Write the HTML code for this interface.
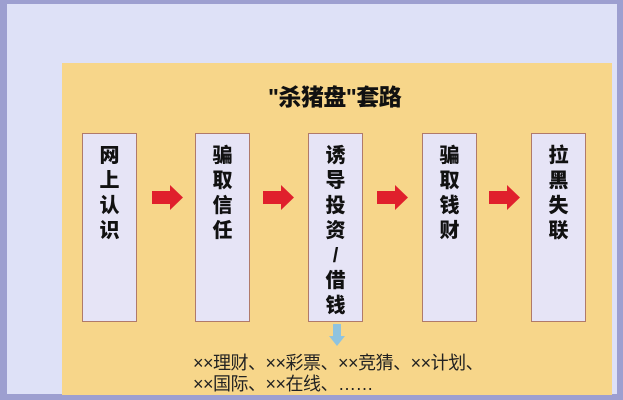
<!DOCTYPE html>
<html><head><meta charset="utf-8"><style>
body{margin:0;width:623px;height:400px;overflow:hidden;background:#9d9fd0;position:relative;font-family:"Liberation Sans","Noto Sans CJK SC",sans-serif}
.inner{position:absolute;left:7px;top:4px;width:610px;height:390px;background:#dee1f7}
.yel{position:absolute;left:62px;top:63px;width:550px;height:332px;background:#f7d68a}
.title{position:absolute;left:268px;top:78px;font-size:23px;font-weight:900;color:#111;letter-spacing:-0.5px}
.box{position:absolute;top:133px;width:55px;height:189px;background:#e6e4f6;border:1px solid #b07a6a;text-align:center;font-size:20px;font-weight:900;line-height:25px;color:#111;box-sizing:border-box;padding-top:10px}
.arr{position:absolute;top:185px;width:32px;height:25px}
.bt{position:absolute;left:193px;font-size:18px;line-height:20px;color:#222;letter-spacing:-0.5px}
</style></head><body>
<div class="inner"></div>
<div class="yel"></div>
<div class="title">"杀猪盘"套路</div>
<div class="box" style="left:82px">网<br>上<br>认<br>识</div>
<div class="box" style="left:195px">骗<br>取<br>信<br>任</div>
<div class="box" style="left:308px">诱<br>导<br>投<br>资<br>/<br>借<br>钱</div>
<div class="box" style="left:422px">骗<br>取<br>钱<br>财</div>
<div class="box" style="left:531px">拉<br>黑<br>失<br>联</div>
<svg class="arr" style="left:152px" viewBox="0 0 32 25"><polygon points="0,6 18,6 18,0 31,12.5 18,25 18,19 0,19" fill="#e0202c"/></svg>
<svg class="arr" style="left:263px" viewBox="0 0 32 25"><polygon points="0,6 18,6 18,0 31,12.5 18,25 18,19 0,19" fill="#e0202c"/></svg>
<svg class="arr" style="left:377px" viewBox="0 0 32 25"><polygon points="0,6 18,6 18,0 31,12.5 18,25 18,19 0,19" fill="#e0202c"/></svg>
<svg class="arr" style="left:489px" viewBox="0 0 32 25"><polygon points="0,6 18,6 18,0 31,12.5 18,25 18,19 0,19" fill="#e0202c"/></svg>
<svg style="position:absolute;left:329px;top:324px" width="16" height="22" viewBox="0 0 16 22"><polygon points="4,0 12,0 12,12 16,12 8,22 0,12 4,12" fill="#8fc3df"/></svg>
<div class="bt" style="top:353px">××理财、××彩票、××竞猜、××计划、</div>
<div class="bt" style="top:374px">××国际、××在线、……</div>
</body></html>
